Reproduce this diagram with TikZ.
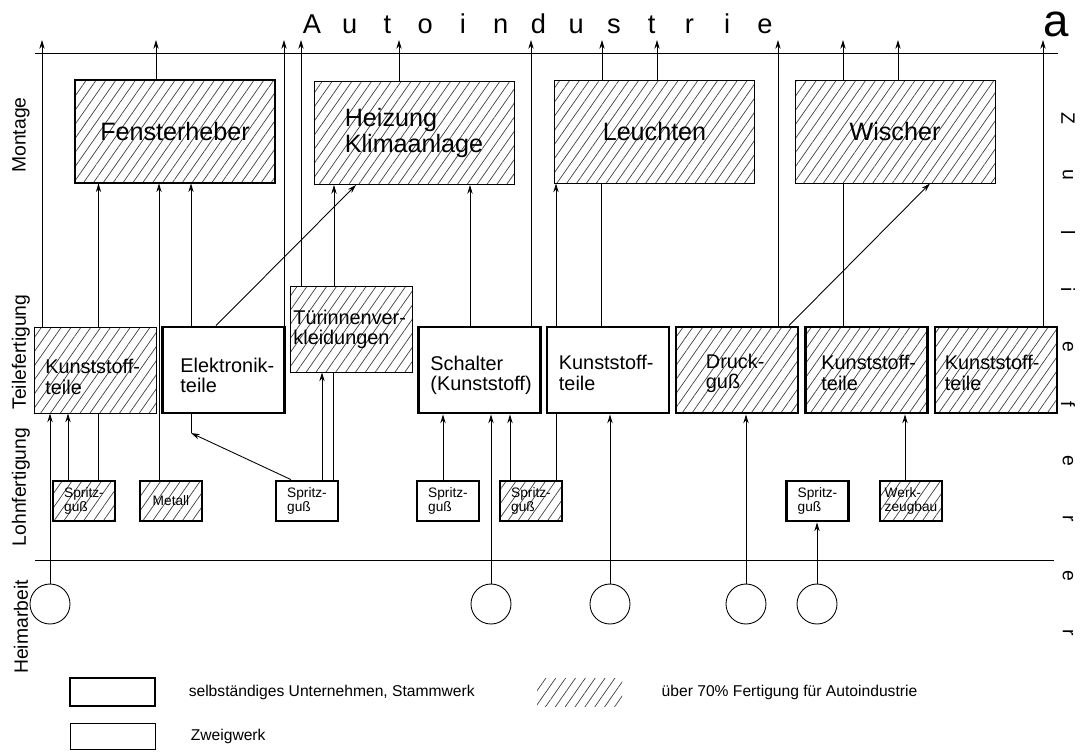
\documentclass[tikz,border=0pt]{standalone}
\usepackage{fontspec}
\setmainfont{Liberation Sans}
\usetikzlibrary{arrows.meta,patterns.meta,positioning}

\begin{document}
\begin{tikzpicture}[>={Stealth[length=5pt,width=3pt]},
  stamm/.style={draw,line width=1.6pt},
  zweig/.style={draw,line width=0.5pt},
  schraff/.style={pattern={Lines[angle=55,distance=4.6pt,line width=0.4pt]},pattern color=black!75},
  montage/.style={minimum width=4cm,minimum height=2.06cm,inner sep=0pt,align=left,font=\fontsize{14.3}{15}\selectfont},
  teil/.style={minimum width=2.44cm,minimum height=1.72cm,inner sep=0pt},
  teiltext/.style={anchor=west,align=left,inner sep=0pt,font=\fontsize{11.3}{11.5}\selectfont},
  lohn/.style={minimum width=1.24cm,minimum height=0.8cm,inner sep=0pt,align=left,font=\fontsize{7.8}{7.6}\selectfont},
  heim/.style={circle,draw,line width=0.5pt,minimum size=0.8cm,inner sep=0pt},
  ebene/.style={rotate=90,font=\fontsize{11}{13}\selectfont},
  legtext/.style={inner sep=0pt,font=\fontsize{8.9}{10}\selectfont},
  fluss/.style={line width=0.5pt}]
  \useasboundingbox (0,0) rectangle (21.7,-15.06);

% Titel
  \foreach \c [count=\i] in {A,u,t,o,i,n,d,u,s,t,r,i,e}
    \node[anchor=base,inner sep=0pt,font=\fontsize{15.5}{18}\selectfont] (titel\i) at ({6.24+0.755*(\i-1)},-0.66) {\c};
  \node[anchor=base,inner sep=0pt,font=\fontsize{26}{30}\selectfont] (teil-a) at (21.12,-0.72) {a};
  \foreach \c [count=\i] in {Z,u,l,i,e,f,e,r,e,r}
    \node[rotate=-90,font=\fontsize{11}{13}\selectfont] (zl\i) at (21.36,{-2.36-1.144*(\i-1)}) {\c};

% Ebenen
  \node[ebene] (montage-l) at (0.42,-2.70) {Montage};
  \node[ebene] (teile-l) at (0.42,-7.04) {Teilefertigung};
  \node[ebene] (lohn-l) at (0.42,-9.74) {Lohnfertigung};
  \node[ebene] (heim-l) at (0.42,-12.54) {Heimarbeit};

  \coordinate (ziel) at (0,-0.80);
  \draw[fluss] (0.70,-1.06) -- (21.16,-1.06);
  \draw[fluss] (0.70,-11.20) -- (21.08,-11.20);

% Montage
  \node[montage,stamm,schraff] (fenster) at (3.50,-2.63) {Fensterheber};
  \node[montage,zweig,schraff] (heizung) at (8.28,-2.66) {Heizung\\Klimaanlage};
  \node[montage,zweig,schraff] (leuchten) at (13.09,-2.63) {Leuchten};
  \node[montage,zweig,schraff] (wischer) at (17.90,-2.63) {Wischer};

% Teilefertigung
  \node[teil,zweig,schraff] (k1) at (1.91,-7.40) {};
  \node[teil,stamm] (elek) at (4.47,-7.40) {};
  \node[teil,zweig,schraff] (tuer) at (7.03,-6.58) {};
  \node[teil,stamm] (schalter) at (9.59,-7.40) {};
  \node[teil,stamm] (k2) at (12.16,-7.40) {};
  \node[teil,stamm,schraff] (druck) at (14.74,-7.40) {};
  \node[teil,stamm,schraff] (k3) at (17.33,-7.40) {};
  \node[teil,stamm,schraff] (k4) at (19.92,-7.40) {};
  \node[teiltext] (k1-t) at ([xshift=0.22cm,yshift=-0.14cm]k1.west) {Kunststoff-\\teile};
  \node[teiltext] (elek-t) at ([xshift=0.38cm,yshift=-0.10cm]elek.west) {Elektronik-\\teile};
  \node[teiltext] (tuer-t) at ([xshift=0.06cm]tuer.west) {Türinnenver-\\kleidungen};
  \node[teiltext] (schalter-t) at ([xshift=0.26cm,yshift=-0.10cm]schalter.west) {Schalter\\(Kunststoff)};
  \node[teiltext] (k2-t) at ([xshift=0.26cm,yshift=-0.06cm]k2.west) {Kunststoff-\\teile};
  \node[teiltext] (druck-t) at ([xshift=0.62cm,yshift=-0.06cm]druck.west) {Druck-\\guß};
  \node[teiltext] (k3-t) at ([xshift=0.34cm,yshift=-0.06cm]k3.west) {Kunststoff-\\teile};
  \node[teiltext] (k4-t) at ([xshift=0.22cm,yshift=-0.06cm]k4.west) {Kunststoff-\\teile};

% Lohnfertigung
  \node[lohn,stamm,schraff] (s1) at (1.68,-10.02) {Spritz-\\guß};
  \node[lohn,stamm,schraff] (metall) at (3.42,-10.02) {Metall};
  \node[lohn,stamm] (s3) at (6.14,-10.02) {Spritz-\\guß};
  \node[lohn,stamm] (s4) at (8.96,-10.02) {Spritz-\\guß};
  \node[lohn,stamm,schraff] (s5) at (10.62,-10.02) {Spritz-\\guß};
  \node[lohn,stamm] (s6) at (16.35,-10.02) {Spritz-\\guß};
  \node[lohn,stamm,schraff] (werk) at (18.22,-10.02) {Werk-\\zeugbau};

% Heimarbeit
  \node[heim] (c1) at (1.00,-12.08) {};
  \node[heim] (c2) at (9.82,-12.08) {};
  \node[heim] (c3) at (12.20,-12.08) {};
  \node[heim] (c4) at (14.92,-12.08) {};
  \node[heim] (c5) at (16.34,-12.08) {};

% nach oben zur Autoindustrie
  \foreach \n/\x in {k1/0.84, fenster/3.12, elek/5.68, tuer/6.02, heizung/7.98, schalter/10.62,
      leuchten/12.04, leuchten/13.14, druck/15.56, wischer/16.86, wischer/17.96, k4/20.86}
    \draw[fluss,->] (\n.north -| \x,0) -- (\x,0 |- ziel);

% Lieferungen
  \foreach \a/\b/\x in {k1/fenster/1.97, metall/fenster/3.18, elek/fenster/3.82, tuer/heizung/6.68,
      schalter/heizung/9.40, k2/leuchten/11.12, c1/k1/1.00, s1/k1/1.36, s3/tuer/6.44, s4/schalter/8.86,
      c2/schalter/9.82, s5/schalter/10.20, c3/k2/12.20, c4/druck/14.92, c5/s6/16.34, werk/k3/18.10}
    \draw[fluss,->] (\a.north -| \x,0) -- (\b.south -| \x,0);
  \foreach \a/\b/\x in {k2/leuchten/12.02, k3/wischer/16.86, s1/k1/1.97, s3/tuer/6.66, s5/k2/11.12}
    \draw[fluss] (\a.north -| \x,0) -- (\b.south -| \x,0);
  \draw[fluss,->] (elek.north -| 4.32,0) -- (heizung.south -| 7.12,0);
  \draw[fluss,->] (druck.north -| 15.78,0) -- (wischer.south -| 18.60,0);
  \coordinate (knick) at (3.82,-8.66);
  \draw[fluss] (elek.south -| knick) -- (knick);
  \draw[fluss,->] (s3.north -| 5.82,0) -- (knick);

% Legende
  \node[stamm,minimum width=1.7cm,minimum height=0.56cm] (leg-stamm) at (2.25,-13.84) {};
  \node[zweig,minimum width=1.7cm,minimum height=0.52cm] (leg-zweig) at (2.25,-14.72) {};
  \node[schraff,minimum width=1.7cm,minimum height=0.56cm] (leg-schraff) at (11.59,-13.84) {};
  \node[legtext,right=0.64cm of leg-stamm] (leg-stamm-t) {selbständiges Unternehmen, Stammwerk};
  \node[legtext,right=0.70cm of leg-zweig] (leg-zweig-t) {Zweigwerk};
  \node[legtext,right=0.78cm of leg-schraff] (leg-schraff-t) {über 70\% Fertigung für Autoindustrie};
\end{tikzpicture}
\end{document}
